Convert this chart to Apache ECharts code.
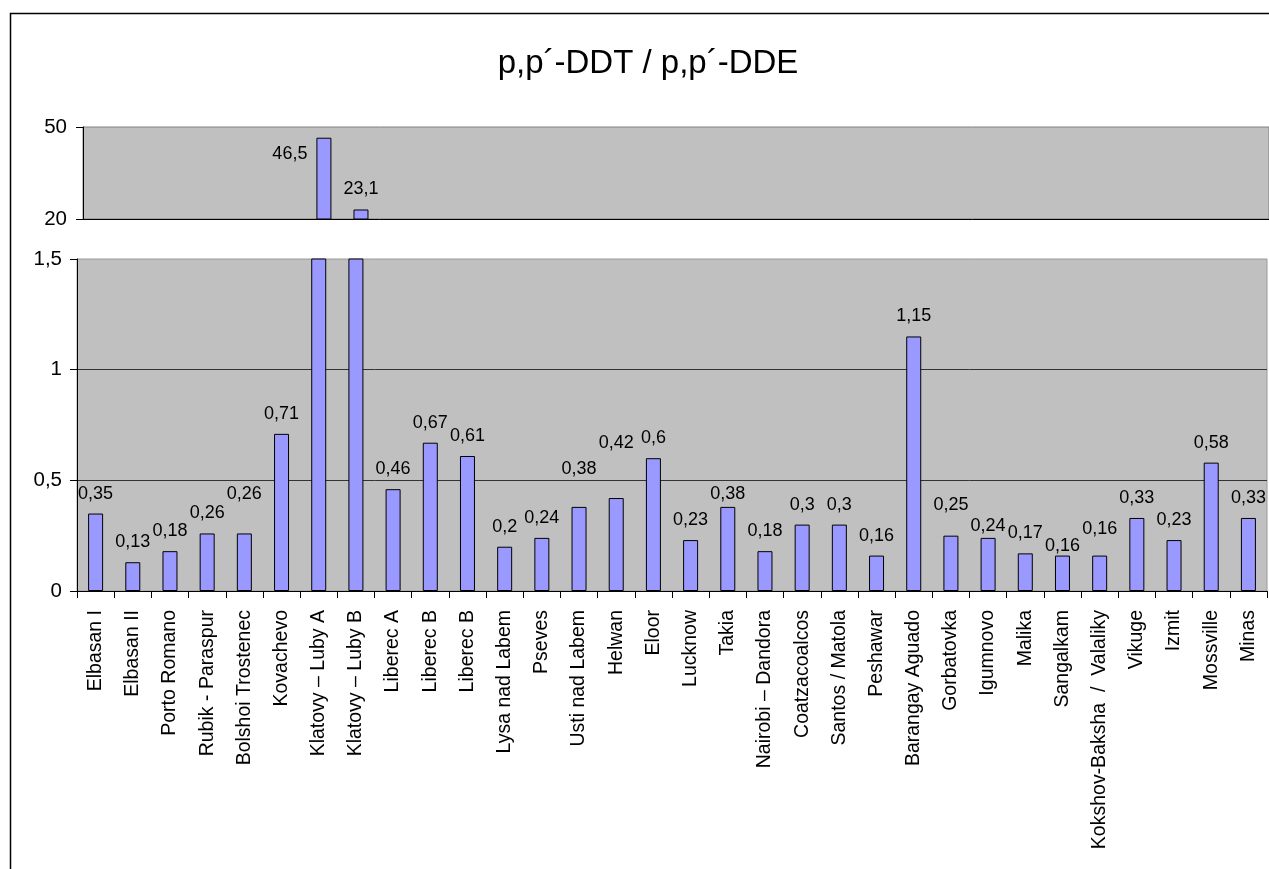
<!DOCTYPE html>
<html>
<head>
<meta charset="utf-8">
<script src="https://cdn.jsdelivr.net/npm/echarts@6/dist/echarts.min.js"></script>
<style>
  html, body { margin: 0; padding: 0; background: #fff; }
  #chart { width: 1269px; height: 869px; }
</style>
</head>
<body>
<div id="chart"></div>
<script>
// sampling sites
const sites = [
  'Elbasan I', 'Elbasan II', 'Porto Romano', 'Rubik - Paraspur', 'Bolshoi Trostenec',
  'Kovachevo', 'Klatovy – Luby A', 'Klatovy – Luby B', 'Liberec A', 'Liberec B',
  'Liberec B', 'Lysa nad Labem', 'Pseves', 'Usti nad Labem', 'Helwan', 'Eloor',
  'Lucknow', 'Takia', 'Nairobi – Dandora', 'Coatzacoalcos', 'Santos / Matola',
  'Peshawar', 'Barangay Aguado', 'Gorbatovka', 'Igumnovo', 'Malika', 'Sangalkam',
  'Kokshov-Baksha  /  Valaliky', 'Vikuge', 'Izmit', 'Mossville', 'Minas'
]

// p,p'-DDT / p,p'-DDE ratio per site
const ratios = [
  0.35, 0.13, 0.18, 0.26, 0.26, 0.71, 46.5, 23.1, 0.46, 0.67, 0.61,
  0.2, 0.24, 0.38, 0.42, 0.6, 0.23, 0.38, 0.18, 0.3, 0.3, 0.16,
  1.15, 0.25, 0.24, 0.17, 0.16, 0.16, 0.33, 0.23, 0.58, 0.33
]

// broken axis: upper and lower ranges
const upperRange = [20, 50]
const lowerRange = [0, 1.5]
const lowerStep = 0.5

// hand-moved value labels in the original (extra lift in px, by site)
const labelLift = {
  'Bolshoi Trostenec': 19,
  'Usti nad Labem': 18,
  'Helwan': 35,
  'Takia': -7,
  'Gorbatovka': 11,
  'Igumnovo': -8,
  'Sangalkam': -10,
  'Kokshov-Baksha  /  Valaliky': 7
}

const comma = (v) => String(v).replace('.', ',')
const FONT = 'Liberation Sans, Arial, sans-serif'
const barColor = '#9999ff'

const upperData = ratios.map((v) => {
  if (v < upperRange[0]) return '-'
  // the tallest bar has its label on the left side
  if (v > 40) {
    return {
      value: v,
      label: { position: [-9, 16], align: 'right', verticalAlign: 'middle' }
    }
  }
  return v
})

const lowerData = ratios.map((v, i) => ({
  value: v,
  label: {
    show: v <= lowerRange[1],
    offset: [0, -(labelLift[sites[i]] || 0)]
  }
}))

const labelStyle = {
  show: true,
  position: 'top',
  distance: 11,
  color: '#000',
  fontSize: 18,
  fontFamily: FONT,
  formatter: (p) => comma(p.value)
}

const chart = echarts.init(document.getElementById('chart'))

chart.setOption({
  animation: false,
  backgroundColor: '#fff',
  title: {
    text: 'p,p´-DDT / p,p´-DDE',
    left: 643,
    top: 42,
    textAlign: 'center',
    textStyle: { color: '#000', fontSize: 33, fontWeight: 'normal', fontFamily: FONT }
  },
  graphic: [{
    type: 'rect',
    shape: { x: 10.5, y: 13.5, width: 1400, height: 1000 },
    style: { fill: 'none', stroke: '#000', lineWidth: 1.5 },
    silent: true
  }],
  grid: [
    {
      left: 83, top: 127, width: 1190, height: 92,
      show: true, backgroundColor: '#c0c0c0', borderColor: '#808080', borderWidth: 1
    },
    {
      left: 77, top: 259, width: 1190, height: 332,
      show: true, backgroundColor: '#c0c0c0', borderColor: '#9a9a9a', borderWidth: 1
    }
  ],
  xAxis: [
    {
      gridIndex: 0,
      type: 'category',
      data: sites,
      axisLine: { lineStyle: { color: '#000', width: 1 } },
      axisTick: { show: false },
      axisLabel: { show: false }
    },
    {
      gridIndex: 1,
      type: 'category',
      data: sites,
      axisLine: { lineStyle: { color: '#000', width: 1 } },
      axisTick: { show: true, length: 7, lineStyle: { color: '#000' } },
      axisLabel: {
        interval: 0,
        rotate: 90,
        margin: 19,
        color: '#000',
        fontSize: 19.5,
        fontFamily: FONT
      }
    }
  ],
  yAxis: [
    {
      gridIndex: 0,
      type: 'value',
      min: upperRange[0],
      max: upperRange[1],
      interval: upperRange[1] - upperRange[0],
      axisLine: { show: true, lineStyle: { color: '#000' } },
      axisTick: { show: true, length: 7, lineStyle: { color: '#000' } },
      axisLabel: { color: '#000', fontSize: 20.5, fontFamily: FONT, margin: 16 },
      splitLine: { show: false }
    },
    {
      gridIndex: 1,
      type: 'value',
      min: lowerRange[0],
      max: lowerRange[1],
      interval: lowerStep,
      axisLine: { show: true, lineStyle: { color: '#000' } },
      axisTick: { show: true, length: 7, lineStyle: { color: '#000' } },
      axisLabel: { color: '#000', fontSize: 20.5, fontFamily: FONT, margin: 15, formatter: comma },
      splitLine: {
        show: true,
        showMinLine: false,
        showMaxLine: false,
        lineStyle: { color: '#333', width: 1 }
      }
    }
  ],
  series: [
    {
      type: 'bar',
      xAxisIndex: 0,
      yAxisIndex: 0,
      data: upperData,
      barWidth: 15,
      itemStyle: { color: barColor, borderColor: '#000', borderWidth: 1 },
      label: labelStyle
    },
    {
      type: 'bar',
      xAxisIndex: 1,
      yAxisIndex: 1,
      data: lowerData,
      barWidth: 15,
      clip: true,
      itemStyle: { color: barColor, borderColor: '#000', borderWidth: 1 },
      label: labelStyle
    }
  ]
})
</script>
</body>
</html>
